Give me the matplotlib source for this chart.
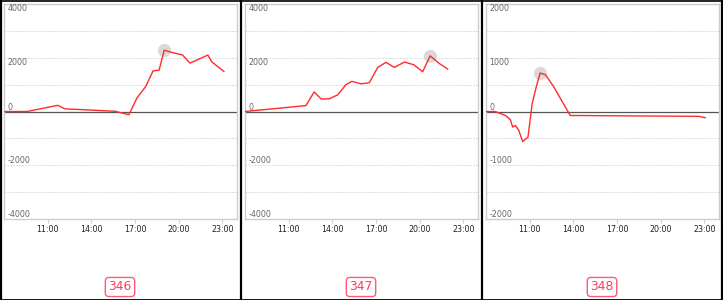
import matplotlib.pyplot as plt
from matplotlib.transforms import blended_transform_factory
from matplotlib.lines import Line2D

# chart data
panel_ids = ["346", "347", "348"]

times_346 = ["08:04", "09:35", "11:42", "12:10", "15:37", "16:35", "17:08", "17:44",
             "18:14", "18:39", "19:00", "19:31", "20:16", "20:46", "22:00", "22:16", "23:06"]
vals_346 = [0, 0, 230, 100, 10, -120, 510, 930, 1510, 1540, 2280, 2200, 2100, 1800, 2100, 1850, 1490]

times_347 = ["08:00", "12:11", "12:45", "13:13", "13:47", "14:22", "14:56", "15:21", "15:58",
             "16:32", "17:07", "17:41", "18:15", "18:57", "19:35", "20:12", "20:43", "21:20", "21:55"]
vals_347 = [0, 220, 730, 470, 470, 620, 1000, 1120, 1030, 1070, 1640, 1830, 1640, 1840,
            1740, 1480, 2070, 1790, 1580]

times_348 = ["08:00", "08:38", "09:20", "09:40", "09:50", "10:01", "10:15", "10:31", "10:53",
             "11:10", "11:26", "11:43", "12:05", "12:39", "13:47", "22:36", "23:03"]
vals_348 = [0, 0, -74, -150, -290, -260, -350, -560, -475, 140, 440, 715, 685, 460, -74, -90, -115]

# index of the highlighted point in each series
peak_idx = [10, 16, 11]

y_limits = [4000, 4000, 2000]
y_steps = [1000, 1000, 500]
x_ticks = ["11:00", "14:00", "17:00", "20:00", "23:00"]


def to_hours(t):
    h, m = t.split(":")
    return int(h) + int(m) / 60


series = [(times_346, vals_346), (times_347, vals_347), (times_348, vals_348)]

W, H = 723, 300
fig = plt.figure(figsize=(W / 100, H / 100), dpi=100)
plt.rcParams['font.family'] = ['DejaVu Sans']

for i, (times, vals) in enumerate(series):
    x0 = 241 * i
    ax = fig.add_axes([(x0 + 4) / W, (H - 219) / H, 233 / W, 215 / H])
    xs = [to_hours(t) for t in times]
    lim = y_limits[i]
    step = y_steps[i]

    ax.set_xlim(8, 24)
    ax.set_ylim(-lim, lim)

    # dashed grid lines
    n = int(lim / step)
    for k in range(-n + 1, n):
        if k == 0:
            continue
        ax.axhline(k * step, color="#dddddd", lw=0.7, ls=(0, (2, 1)), zorder=0)
    ax.axhline(0, color="#555555", lw=0.9, zorder=1)

    ax.plot(xs, vals, color="#ff2a2a", lw=1.0, zorder=3)
    p = peak_idx[i]
    ax.plot(xs[p], vals[p], "o", ms=9.5, color="#d0d0d0", alpha=0.8, mec="none", zorder=2)

    # y labels drawn inside the plot
    trans = blended_transform_factory(ax.transAxes, ax.transData)
    for v in [lim, lim // 2, 0, -lim // 2, -lim]:
        va = "top" if v > 0 else "bottom"
        ax.text(0.015, v, f"{v}", transform=trans, fontsize=5.7, color="#666666",
                va=va, ha="left")
    ax.set_yticks([])

    ax.set_xticks([to_hours(t) for t in x_ticks])
    ax.set_xticklabels(x_ticks, fontsize=5.7, color="#222222")
    ax.tick_params(axis="x", length=3, color="#cccccc", pad=1.5)
    for s in ax.spines.values():
        s.set_color("#cccccc")
        s.set_linewidth(1.0)

    # badge under the panel
    fig.text((x0 + 120) / W, (H - 287) / H, panel_ids[i], fontsize=8.8, color="#ff3a5c",
             ha="center", va="center",
             bbox=dict(boxstyle="round,pad=0.25,rounding_size=0.3", fc="white",
                       ec="#ff5a78", lw=1.0))

# black outer borders and separators
for xp in [1, 241, 482, 721.5]:
    fig.add_artist(Line2D([xp / W, xp / W], [0, 1], color="black", lw=1.6))
fig.add_artist(Line2D([0, 1], [0.5 / H, 0.5 / H], color="black", lw=2.0))
fig.add_artist(Line2D([0, 1], [1 - 0.5 / H, 1 - 0.5 / H], color="black", lw=1.2))

fig.savefig("out.png", dpi=100)
